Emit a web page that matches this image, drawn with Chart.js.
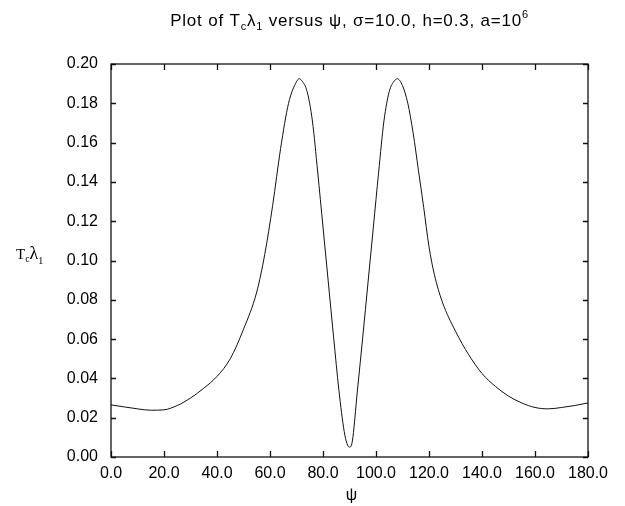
<!DOCTYPE html>
<html>
<head>
<meta charset="utf-8">
<script src="https://cdn.jsdelivr.net/npm/chart.js@4.4.1/dist/chart.umd.min.js"></script>
<style>
    html, body { margin: 0; padding: 0; background: #fff; }
    #wrap { width: 625px; height: 506px; }
</style>
</head>
<body>
<div id="wrap"><canvas id="myChart" width="625" height="506"></canvas></div>
<script>
// psi (degrees) and T_c*lambda_1
const psi = [0, 5, 10, 15, 20, 25, 30, 35, 40, 45, 50, 55, 58, 61, 64, 67, 70, 71, 72, 74, 76, 78, 80, 82, 84, 86, 88, 89, 90, 91, 93, 95, 97, 99, 101, 103, 105, 107, 108, 110, 112, 114, 116, 118, 120, 122, 125, 130, 135, 140, 145, 150, 155, 160, 165, 170, 175, 180];
const tcl = [0.0265, 0.0255, 0.0245, 0.0238, 0.0240, 0.0262, 0.0300, 0.0350, 0.0410, 0.0500, 0.0650, 0.0840, 0.1030, 0.1280, 0.1570, 0.1800, 0.1910, 0.1925, 0.1915, 0.1860, 0.1710, 0.1450, 0.1170, 0.0890, 0.0610, 0.0340, 0.0130, 0.0070, 0.0050, 0.0075, 0.0340, 0.0610, 0.0890, 0.1170, 0.1450, 0.1710, 0.1860, 0.1915, 0.1925, 0.1890, 0.1800, 0.1650, 0.1460, 0.1270, 0.1070, 0.0930, 0.0790, 0.0640, 0.0520, 0.0425, 0.0360, 0.0310, 0.0275, 0.0252, 0.0245, 0.0252, 0.0262, 0.0275];

const xRange = [0, 180];
const xStep = 20;
const yRange = [0, 0.2];
const yStep = 0.02;

const tickFont = {family: '"Liberation Sans", Arial, sans-serif', size: 16};

// inward tick marks on all four sides plus the box
const framePlugin = {
    id: 'frame',
    afterDraw(chart) {
        const ctx = chart.ctx;
        const a = chart.chartArea;
        const xs = chart.scales.x;
        const ys = chart.scales.y;
        ctx.save();
        ctx.strokeStyle = '#111';
        ctx.lineWidth = 1.3;
        ctx.strokeRect(a.left, a.top, a.right - a.left, a.bottom - a.top);
        ctx.beginPath();
        xs.ticks.forEach(t => {
            const px = Math.round(xs.getPixelForValue(t.value)) + 0.5;
            ctx.moveTo(px, a.bottom); ctx.lineTo(px, a.bottom - 6);
            ctx.moveTo(px, a.top); ctx.lineTo(px, a.top + 6);
        });
        ys.ticks.forEach(t => {
            const py = Math.round(ys.getPixelForValue(t.value)) + 0.5;
            ctx.moveTo(a.left, py); ctx.lineTo(a.left + 5, py);
            ctx.moveTo(a.right, py); ctx.lineTo(a.right - 5, py);
        });
        ctx.stroke();
        ctx.restore();
    }
};

function drawRich(ctx, segs, x, y, align) {
    let w = 0;
    segs.forEach(s => { ctx.font = s.font; w += ctx.measureText(s.t).width; });
    let cx = align === 'center' ? x - w / 2 : x;
    ctx.textAlign = 'left';
    ctx.textBaseline = 'alphabetic';
    segs.forEach(s => {
        ctx.font = s.font;
        ctx.fillText(s.t, cx, y + (s.dy || 0));
        cx += ctx.measureText(s.t).width;
    });
}

const textPlugin = {
    id: 'texts',
    afterDraw(chart) {
        const ctx = chart.ctx;
        const a = chart.chartArea;
        const f = '17px "Liberation Sans", Arial, sans-serif';
        const fs = '11px "Liberation Sans", Arial, sans-serif';
        ctx.save();
        ctx.fillStyle = '#000';
        ctx.letterSpacing = '0.8px';
        drawRich(ctx, [
            {t: 'Plot of T', font: f},
            {t: 'c', font: fs, dy: 4},
            {t: 'λ', font: f},
            {t: '1', font: fs, dy: 4},
            {t: ' versus ψ, σ=10.0, h=0.3, a=10', font: f},
            {t: '6', font: fs, dy: -8}
        ], (a.left + a.right) / 2, 26, 'center');
        ctx.letterSpacing = '0px';

        const sf = '15px "Liberation Serif", "Times New Roman", serif';
        const ss = '10px "Liberation Serif", "Times New Roman", serif';
        drawRich(ctx, [
            {t: 'T', font: sf},
            {t: 'c', font: ss, dy: 3},
            {t: 'λ', font: '18px "Liberation Serif", "Times New Roman", serif'},
            {t: '1', font: ss, dy: 5}
        ], 16, 259, 'left');

        ctx.font = '16px "Liberation Sans", Arial, sans-serif';
        ctx.textAlign = 'center';
        ctx.textBaseline = 'alphabetic';
        ctx.fillText('ψ', (a.left + a.right) / 2 + 2, 500);
        ctx.restore();
    }
};

const ctx = document.getElementById('myChart').getContext('2d');
const myChart = new Chart(ctx, {
    type: 'line',
    data: {
        datasets: [{
            data: psi.map((p, i) => ({x: p, y: tcl[i]})),
            borderColor: '#111',
            borderWidth: 1,
            pointRadius: 0,
            fill: false,
            cubicInterpolationMode: 'monotone'
        }]
    },
    options: {
        responsive: false,
        animation: false,
        layout: {padding: {top: 64, right: 37, left: 0, bottom: 0}},
        plugins: {
            legend: {display: false},
            tooltip: {enabled: false}
        },
        scales: {
            x: {
                type: 'linear',
                min: xRange[0],
                max: xRange[1],
                afterFit(scale) { scale.height = 49; },
                grid: {display: false, drawTicks: false},
                border: {display: false},
                ticks: {
                    stepSize: xStep,
                    color: '#000',
                    font: tickFont,
                    padding: 7,
                    maxRotation: 0,
                    callback: v => v.toFixed(1)
                }
            },
            y: {
                min: yRange[0],
                max: yRange[1],
                afterFit(scale) { scale.width = 111; },
                grid: {display: false, drawTicks: false},
                border: {display: false},
                ticks: {
                    stepSize: yStep,
                    color: '#000',
                    font: tickFont,
                    padding: 13,
                    callback: v => v.toFixed(2)
                }
            }
        }
    },
    plugins: [framePlugin, textPlugin]
});
</script>
</body>
</html>
